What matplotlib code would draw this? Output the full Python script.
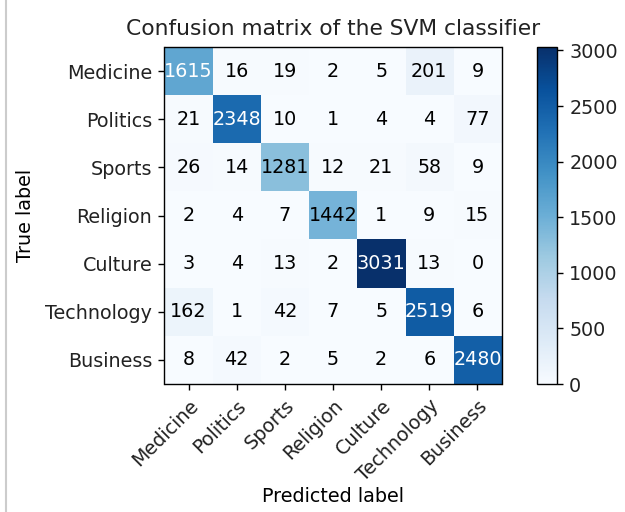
import numpy as np
import matplotlib
matplotlib.use("Agg")
from matplotlib import pyplot as plt
from matplotlib.lines import Line2D

classes = ['Medicine', 'Politics', 'Sports', 'Religion', 'Culture', 'Technology', 'Business']

medicine = [1615, 16, 19, 2, 5, 201, 9]
politics = [21, 2348, 10, 1, 4, 4, 77]
sports = [26, 14, 1281, 12, 21, 58, 9]
religion = [2, 4, 7, 1442, 1, 9, 15]
culture = [3, 4, 13, 2, 3031, 13, 0]
technology = [162, 1, 42, 7, 5, 2519, 6]
business = [8, 42, 2, 5, 2, 6, 2480]

cm = np.array([medicine, politics, sports, religion, culture, technology, business])

plt.rcParams['font.size'] = 11
plt.rcParams['text.color'] = '#222222'
plt.rcParams['xtick.labelcolor'] = '#222222'
plt.rcParams['ytick.labelcolor'] = '#222222'

fig = plt.figure(figsize=(5, 4.096), dpi=125)
ax = fig.add_axes([163 / 625, 1 - 384 / 512, 340 / 625, 337 / 512])
cax = fig.add_axes([537 / 625, 1 - 384 / 512, 20 / 625, 337 / 512])

im = ax.imshow(cm, interpolation='nearest', cmap=plt.cm.Blues)
ax.set_title('Confusion matrix of the SVM classifier', fontsize=12.5, pad=7)
fig.colorbar(im, cax=cax)

ticks = np.arange(len(classes))
ax.set_xticks(ticks)
ax.set_xticklabels(classes, rotation=45, ha='right', rotation_mode='anchor')
ax.set_yticks(ticks)
ax.set_yticklabels(classes)

# text colour flips at half the max
thresh = cm.max() / 2.
for i in range(cm.shape[0]):
    for j in range(cm.shape[1]):
        ax.text(j, i, format(cm[i, j], 'd'),
                ha='center', va='center',
                color='white' if cm[i, j] > thresh else 'black')

ax.set_ylabel('True label', labelpad=6)
ax.set_xlabel('Predicted label', labelpad=1)

# screenshot border on the left
fig.add_artist(Line2D([6 / 625, 6 / 625], [0, 1], color='#cccccc', lw=1.2))

fig.savefig('out.png', dpi=125)
